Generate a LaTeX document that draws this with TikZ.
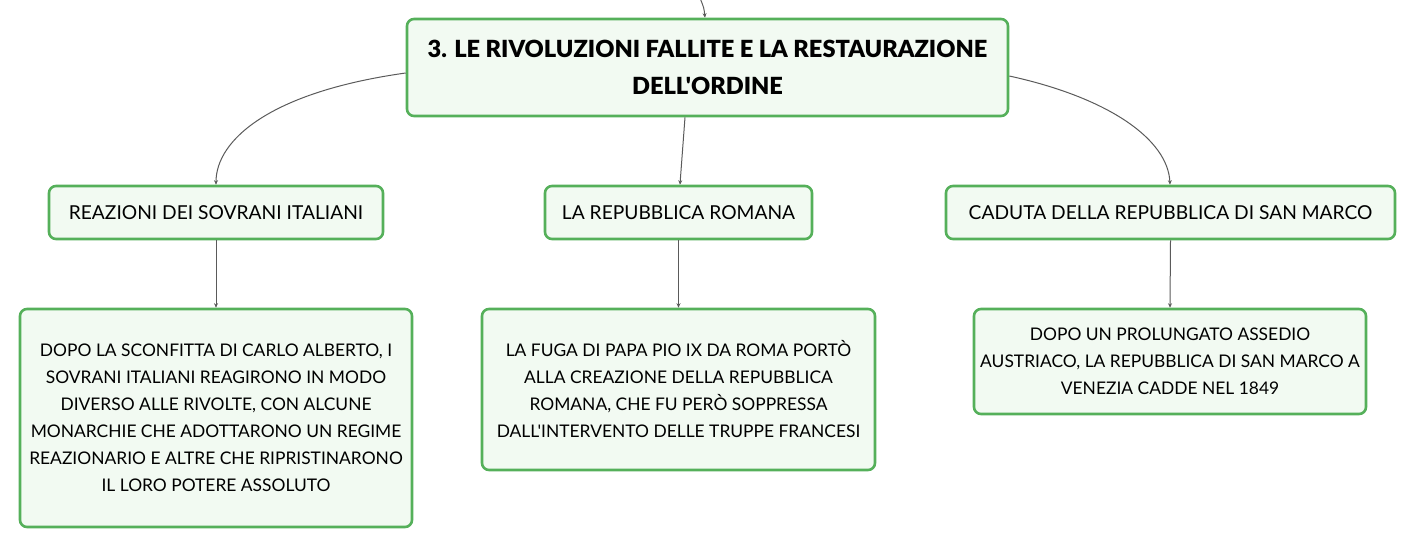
\documentclass[tikz,border=0pt]{standalone}
\usepackage{fontspec}
\setmainfont{Lato}[Ligatures=TeXOff]
\newfontfamily\titlefont{Lato Black}[Ligatures=TeXOff]
\usetikzlibrary{arrows.meta}
\definecolor{bord}{HTML}{55B05A}
\definecolor{fillg}{HTML}{F2FAF2}
\definecolor{linec}{HTML}{5A5A5A}
\begin{document}
\begin{tikzpicture}[x=1pt,y=-1pt,
  box/.style={draw=bord,line width=2.6pt,fill=fillg,rounded corners=7pt,inner sep=0pt,align=center,font=\fontsize{17.4}{27}\selectfont},
  lab/.style={box,minimum height=53pt,font=\fontsize{19.2}{22}\selectfont},
  conn/.style={draw=linec,line width=1pt,-{Stealth[length=4.5pt,width=4pt]}}]
\useasboundingbox (0,0) rectangle (1416,549);
\node[box,minimum width=601pt,minimum height=97pt,font=\fontsize{23.6}{37}\selectfont\titlefont] (top) at (707.5,67.5) {3. LE RIVOLUZIONI FALLITE E LA RESTAURAZIONE\\DELL'ORDINE};
\node[lab,minimum width=334pt] (a) at (216,212.5) {REAZIONI DEI SOVRANI ITALIANI};
\node[lab,minimum width=267pt] (b) at (678.5,212.5) {LA REPUBBLICA ROMANA};
\node[lab,minimum width=449pt] (c) at (1170.5,212.5) {CADUTA DELLA REPUBBLICA DI SAN MARCO};
\node[box,minimum width=392pt,minimum height=218pt] (a2) at (216,418) {DOPO LA SCONFITTA DI CARLO ALBERTO, I\\SOVRANI ITALIANI REAGIRONO IN MODO\\DIVERSO ALLE RIVOLTE, CON ALCUNE\\MONARCHIE CHE ADOTTARONO UN REGIME\\REAZIONARIO E ALTRE CHE RIPRISTINARONO\\IL LORO POTERE ASSOLUTO};
\node[box,minimum width=393pt,minimum height=161pt] (b2) at (678.5,389.5) {LA FUGA DI PAPA PIO IX DA ROMA PORTÒ\\ALLA CREAZIONE DELLA REPUBBLICA\\ROMANA, CHE FU PERÒ SOPPRESSA\\DALL'INTERVENTO DELLE TRUPPE FRANCESI};
\node[box,minimum width=392pt,minimum height=105pt] (c2) at (1170,361.5) {DOPO UN PROLUNGATO ASSEDIO\\AUSTRIACO, LA REPUBBLICA DI SAN MARCO A\\VENEZIA CADDE NEL 1849};
\coordinate (in) at (700,-2);
\draw[conn] (in) .. controls (704,8) .. ([xshift=-2.5pt]top.north);
\draw[conn] ([yshift=-5.5pt]top.west) .. controls (270,92) and (216,140) .. (a.north);
\draw[conn] ([yshift=-8.5pt]top.east) .. controls (1110,98) and (1168,140) .. ([xshift=-0.5pt]c.north);
\draw[conn] ([xshift=-22.5pt]top.south) .. controls (682,150) .. ([xshift=1.5pt]b.north);
\draw[conn] (a.south) -- (a2.north);
\draw[conn] (b.south) -- (b2.north);
\draw[conn] (c.south) -- (c2.north);
\end{tikzpicture}
\end{document}
